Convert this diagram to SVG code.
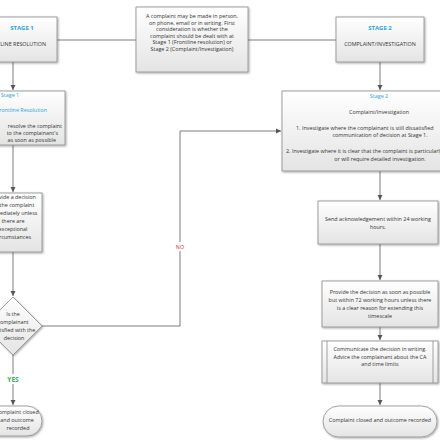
<svg xmlns="http://www.w3.org/2000/svg" width="440" height="440" viewBox="0 0 440 440">
<defs>
<linearGradient id="g" x1="0" y1="0" x2="0" y2="1"><stop offset="0" stop-color="#ffffff"/><stop offset="1" stop-color="#e4e4e4"/></linearGradient>
<filter id="sh" x="-10%" y="-10%" width="130%" height="130%"><feGaussianBlur in="SourceAlpha" stdDeviation="0.8"/><feOffset dx="1.2" dy="1.2"/><feComponentTransfer><feFuncA type="linear" slope="0.35"/></feComponentTransfer><feMerge><feMergeNode/><feMergeNode in="SourceGraphic"/></feMerge></filter>
<marker id="ar" markerWidth="6" markerHeight="6" refX="5" refY="3" orient="auto" markerUnits="userSpaceOnUse"><path d="M0,0.5 L5,3 L0,5.5 Z" fill="#555"/></marker>
<style>
.b{fill:url(#g);stroke:#8a8a8a;stroke-width:0.8;filter:url(#sh)}
.c{fill:none;stroke:#6e6e6e;stroke-width:0.9}
.t{font-family:"Open Sans","Noto Sans",sans-serif;font-size:5.4px;fill:#333}
.m{text-anchor:middle}
.e{text-anchor:end}
.bl{fill:#2aa3d8}
.h{font-weight:bold;font-size:6px}
</style>
</defs>
<g id="connectors">
<path class="c" d="M57,40 H136"/>
<path class="c" d="M248,40 H336"/>
<path class="c" d="M13,62 V90" marker-end="url(#ar)"/>
<path class="c" d="M380,62 V90" marker-end="url(#ar)"/>
<path class="c" d="M13,145 V192" marker-end="url(#ar)"/>
<path class="c" d="M13,252 V296" marker-end="url(#ar)"/>
<path class="c" d="M13,355 V405" marker-end="url(#ar)"/>
<path class="c" d="M42,326 H180 V131 H281" marker-end="url(#ar)"/>
<path class="c" d="M380,171 V200" marker-end="url(#ar)"/>
<path class="c" d="M380,244 V280" marker-end="url(#ar)"/>
<path class="c" d="M380,327 V340" marker-end="url(#ar)"/>
<path class="c" d="M380,383 V405" marker-end="url(#ar)"/>
<rect x="172" y="242" width="16" height="9" fill="#fff"/>
<text class="t m" x="180" y="249" style="fill:#e0242b">NO</text>
<rect x="4" y="374" width="18" height="10" fill="#fff"/>
<text class="t m" x="13" y="382" style="fill:#2db34a;font-weight:bold;font-size:6.5px">YES</text>
</g>
<g id="stage1">
<rect class="b" x="-40" y="17" width="97" height="45"/>
<text class="t m bl h" x="22" y="30">STAGE 1</text>
<text class="t e" x="46" y="46">FRONTLINE RESOLUTION</text>
</g>
<g id="intro">
<rect class="b" x="136" y="7" width="112" height="65"/>
<text class="t m" x="192" y="18">A complaint may be made in person,</text>
<text class="t m" x="192" y="24.6">on phone, email or in writing. First</text>
<text class="t m" x="192" y="31.2">consideration is whether the</text>
<text class="t m" x="192" y="37.8">complaint should be dealt with at</text>
<text class="t m" x="192" y="44.4">Stage 1 (Frontline resolution) or</text>
<text class="t m" x="192" y="51">Stage 2 (Complaint/Investigation)</text>
</g>
<g id="stage2">
<rect class="b" x="336" y="17" width="88" height="45"/>
<text class="t m bl h" x="380" y="30">STAGE 2</text>
<text class="t m" x="380" y="46">COMPLAINT/INVESTIGATION</text>
</g>
<g id="stage1-detail">
<rect class="b" x="-40" y="91" width="105" height="54"/>
<text class="t m bl" x="10" y="97">Stage 1</text>
<text class="t e bl" x="47" y="112">Frontline Resolution</text>
<text class="t e" x="62" y="128">resolve the complaint</text>
<text class="t e" x="58" y="135">to the complainant's</text>
<text class="t e" x="56" y="142">as soon as possible</text>
</g>
<g id="decision">
<rect class="b" x="-16" y="193" width="58" height="59"/>
<text class="t m" x="13" y="199">Provide a decision</text>
<text class="t m" x="13" y="207">on the complaint</text>
<text class="t m" x="13" y="215">immediately unless</text>
<text class="t m" x="13" y="223">there are</text>
<text class="t m" x="13" y="231">exceptional</text>
<text class="t m" x="13" y="239">circumstances</text>
</g>
<g id="satisfied">
<polygon class="b" points="13,297 42,326 13,355 -16,326"/>
<text class="t m" x="13" y="316">Is the</text>
<text class="t m" x="13" y="324">complainant</text>
<text class="t m" x="14" y="332">satisfied with the</text>
<text class="t m" x="14" y="340">decision</text>
</g>
<g id="closed1">
<rect class="b" x="-16" y="406" width="58" height="30" rx="15"/>
<text class="t m" x="17" y="414">Complaint closed</text>
<text class="t m" x="17" y="422">and outcome</text>
<text class="t m" x="18" y="430">recorded</text>
</g>
<g id="stage2-detail">
<rect class="b" x="282" y="91" width="196" height="80"/>
<text class="t m bl" x="379" y="98">Stage 2</text>
<text class="t m" x="379" y="114">Complaint/Investigation</text>
<text class="t" x="296" y="130">1. Investigate where the complainant is still dissatisfied</text>
<text class="t m" x="380" y="137">communication of decision at Stage 1.</text>
<text class="t" x="286" y="153">2. Investigate where it is clear that the complaint is particularly</text>
<text class="t m" x="380" y="161">or will require detailed investigation.</text>
</g>
<g id="ack">
<rect class="b" x="318" y="201" width="120" height="43"/>
<text class="t m" x="378" y="221">Send acknowledgement within 24 working</text>
<text class="t m" x="378" y="229">hours.</text>
</g>
<g id="provide">
<rect class="b" x="322" y="281" width="116" height="46"/>
<text class="t m" x="380" y="294">Provide the decision as soon as possible</text>
<text class="t m" x="380" y="302">but within 72 working hours unless there</text>
<text class="t m" x="380" y="310">is a clear reason for extending this</text>
<text class="t m" x="380" y="318">timescale</text>
</g>
<g id="communicate">
<rect class="b" x="322" y="341" width="116" height="42"/>
<path d="M327,341 V383 M433,341 V383" stroke="#8a8a8a" stroke-width="0.8"/>
<text class="t m" x="380" y="351">Communicate the decision in writing.</text>
<text class="t m" x="380" y="358.5">Advice the complainant about the CA</text>
<text class="t m" x="380" y="366">and time limits</text>
</g>
<g id="closed2">
<rect class="b" x="323" y="406" width="114" height="31" rx="15.5"/>
<text class="t m" x="380" y="422">Complaint closed and outcome recorded</text>
</g>
</svg>
